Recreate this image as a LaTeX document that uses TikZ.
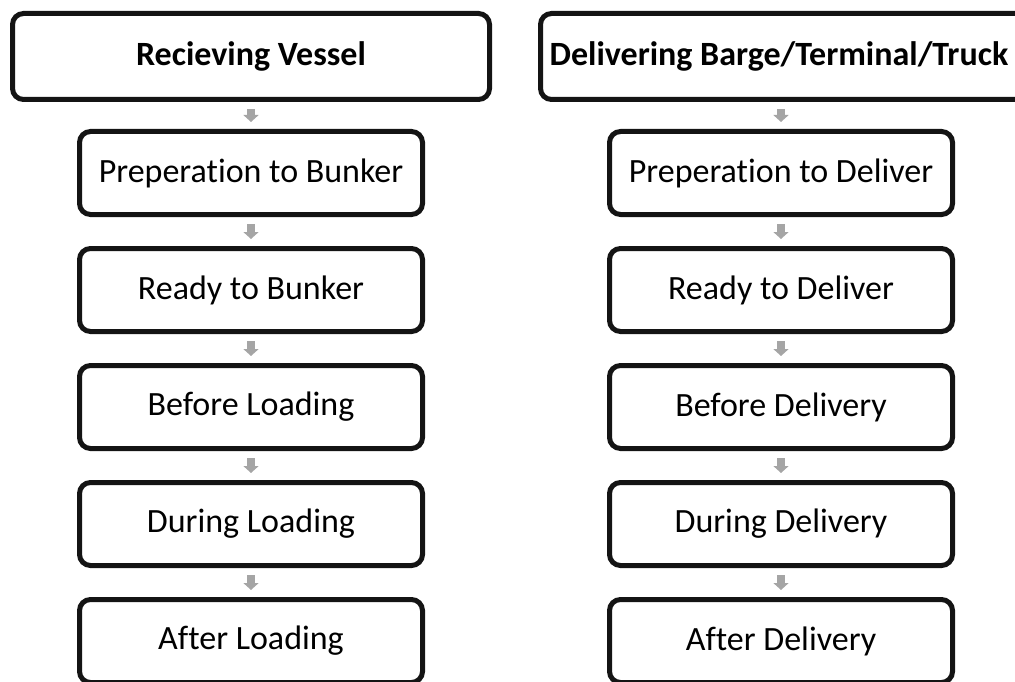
\documentclass[tikz,border=0pt]{standalone}
\usepackage{fontspec}
\setmainfont{Carlito}[Ligatures=NoCommon]
\usetikzlibrary{arrows.meta,calc}
\definecolor{arrowgray}{HTML}{A5A5A5}
\definecolor{boxline}{HTML}{141414}
\tikzset{
  box/.style={draw=boxline, line width=5pt, rounded corners=11pt, fill=white,
    minimum height=83pt, inner sep=0pt, align=center,
    font=\fontsize{34}{40}\selectfont},
  headbox/.style={box, minimum width=477pt, minimum height=86pt,
    font=\fontsize{34}{40}\selectfont\bfseries},
  stepbox/.style={box, minimum width=343pt},
  flow/.style={draw=arrowgray, line width=8pt, shorten >=7pt, shorten <=7pt,
    -{Triangle[width=15pt,length=7pt]}}
}
\begin{document}
\begin{tikzpicture}[x=1pt,y=-1pt]
\useasboundingbox (0,0) rectangle (1015,682);
% left column
\node[headbox] (L0) at (251,56.5) {Recieving Vessel};
\node[stepbox] (L1) at (251,173) {Preperation to Bunker};
\node[stepbox] (L2) at (251,290) {Ready to Bunker};
\node[stepbox] (L3) at (251,407) {Before Loading};
\node[stepbox] (L4) at (251,524) {During Loading};
\node[stepbox] (L5) at (251,641) {After Loading};
% right column
\node[headbox, minimum width=500pt,
  label={[font=\fontsize{34}{40}\selectfont\bfseries, xshift=-11.5pt]center:Delivering Barge/Terminal/Truck}]
  (R0) at (790.5,56.5) {};
\node[stepbox] (R1) at (781,173) {Preperation to Deliver};
\node[stepbox] (R2) at (781,290) {Ready to Deliver};
\node[stepbox] (R3) at (781,407) {Before Delivery};
\node[stepbox] (R4) at (781,524) {During Delivery};
\node[stepbox] (R5) at (781,641) {After Delivery};
% connectors
\foreach \a/\b in {L0/L1,L1/L2,L2/L3,L3/L4,L4/L5}
  \draw[flow] (\a.south) -- (\b.north);
\draw[flow] (R0.south -| R1.north) -- (R1.north);
\foreach \a/\b in {R1/R2,R2/R3,R3/R4,R4/R5}
  \draw[flow] (\a.south) -- (\b.north);
\end{tikzpicture}
\end{document}
